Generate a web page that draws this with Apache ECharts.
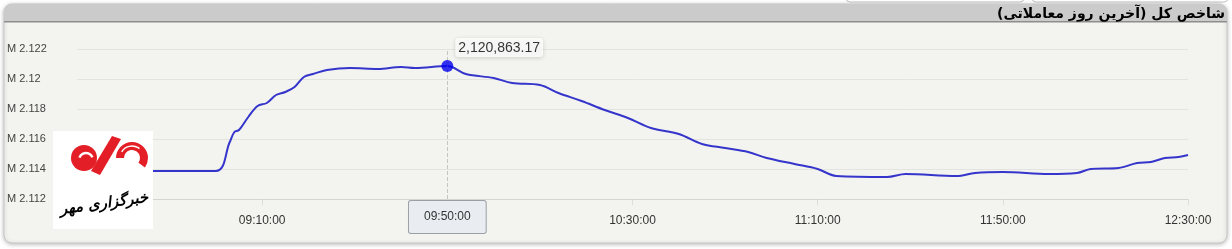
<!DOCTYPE html>
<html><head><meta charset="utf-8">
<script src="https://cdn.jsdelivr.net/npm/echarts@6/dist/echarts.min.js"></script>
<style>html,body{margin:0;padding:0;background:#fff;}#c{width:1232px;height:249px;}</style>
</head><body><div id="c"></div>
<script>
const titleText = 'شاخص کل (آخرین روز معاملاتی)';
const logoText = 'خبرگزاری مهر';
const times = ['08:30','09:00','09:03','09:04','09:05','09:07','09:09','09:11','09:13','09:15','09:17','09:19','09:21','09:24','09:29','09:35','09:40','09:43','09:50','09:54','10:00','10:04','10:10','10:14','10:19','10:24','10:29','10:34','10:40','10:45','10:50','10:55','10:59','11:05','11:10','11:14','11:25','11:29','11:40','11:44','11:50','12:00','12:06','12:09','12:15','12:19','12:22','12:25','12:28','12:30'];
const values = [2113867,2113867,2115800,2116467,2116600,2117467,2118200,2118400,2118933,2119133,2119467,2120133,2120333,2120600,2120733,2120667,2120800,2120733,2120863.17,2120333,2120067,2119733,2119600,2119067,2118533,2117933,2117400,2116733,2116333,2115667,2115400,2115133,2114733,2114333,2114000,2113533,2113467,2113667,2113533,2113733,2113800,2113667,2113733,2114000,2114067,2114400,2114467,2114733,2114800,2114933];
const highlightTime = '09:50';
const startTime = '08:30', endTime = '12:30';
const yMin = 2112000, yMax = 2122000, yStep = 2000;
const xStepMin = 40;

function toMin(s){const p=s.split(':');return (+p[0])*60+(+p[1]);}
const t0 = toMin(startTime);
function fmtTime(m){const a=m+t0;const h=Math.floor(a/60),mm=a%60;return String(h).padStart(2,'0')+':'+String(mm).padStart(2,'0')+':00';}
const lineData = times.map((t,i)=>[toMin(t)-t0, values[i]]);
const hi = times.indexOf(highlightTime);
const hiPoint = lineData[hi];

const RED = '#e31e26';
const chart = echarts.init(document.getElementById('c'), null, {renderer:'canvas'});
chart.setOption({
  animation:false,
  backgroundColor:'#ffffff',
  tooltip:{show:true, trigger:'axis', triggerOn:'none', showContent:false},
  graphic:[
    {type:'rect', z:-10, shape:{x:846,y:-10,width:178,height:12,r:4}, style:{fill:'#fff',stroke:'#c4c4c4'}},
    {type:'rect', z:-10, shape:{x:1032,y:-10,width:196,height:12,r:4}, style:{fill:'#fff',stroke:'#c4c4c4'}},
    {type:'rect', z:-10, shape:{x:4,y:4,width:1223,height:239,r:8},
      style:{fill:'#f3f3ef',stroke:'#c8c8c8',lineWidth:1,shadowBlur:4,shadowColor:'rgba(0,0,0,0.25)',shadowOffsetY:1}},
    {type:'rect', z:-9, shape:{x:4,y:4,width:1223,height:18,r:[8,8,0,0]}, style:{fill:'#cbcbcb'}},
    {type:'rect', z:-9, shape:{x:4,y:21,width:1223,height:1.5}, style:{fill:'#8e8e8e'}},
    {type:'text', z:-8, style:{text:titleText, x:1225, y:14, align:'right', verticalAlign:'middle', fill:'#000', font:'bold 14px "DejaVu Sans", sans-serif'}},
    {type:'rect', zlevel:2, z:1, shape:{x:53,y:131,width:100,height:98}, style:{fill:'#fff'}},
    {type:'circle', zlevel:2, z:2, shape:{cx:84,cy:158,r:13}, style:{fill:RED}},
    {type:'arc', zlevel:2, z:3, shape:{cx:86,cy:160,r:7,startAngle:-2.8,endAngle:-0.4}, style:{stroke:'#fff',lineWidth:2.5,fill:null}},
    {type:'polygon', zlevel:2, z:2, shape:{points:[[91,171],[112,136],[121,139],[100,175]]}, style:{fill:RED}},
    {type:'sector', zlevel:2, z:2, shape:{cx:132,cy:158,r:16,r0:8,startAngle:Math.PI,endAngle:Math.PI*2.2}, style:{fill:RED}},
    {type:'arc', zlevel:2, z:3, shape:{cx:132,cy:158,r:12,startAngle:-2.6,endAngle:-0.9}, style:{stroke:'#fff',lineWidth:1.5,fill:null}},
    {type:'text', zlevel:2, z:3, rotation:0.14, x:104, y:204, style:{text:logoText, x:0, y:0, align:'center', verticalAlign:'middle', fill:'#000', font:'italic bold 15px "DejaVu Sans", sans-serif'}}
  ],
  grid:{left:77, right:44, top:49, bottom:50, containLabel:false},
  xAxis:{
    type:'value', min:0, max:toMin(endTime)-t0, interval:xStepMin,
    axisLine:{show:true, lineStyle:{color:'#d4d4d0', width:1}},
    axisTick:{show:true, length:6, lineStyle:{color:'#dcdcd8'}},
    splitLine:{show:false},
    axisLabel:{showMinLabel:false, showMaxLabel:true, margin:16, color:'#333', fontSize:12, fontFamily:'"Liberation Sans", Arial, sans-serif', formatter:v=>fmtTime(v)},
    axisPointer:{show:true, type:'line', value:hiPoint[0], status:'show', snap:false, triggerTooltip:false,
      lineStyle:{type:'dashed', color:'#c4c4c4', width:1},
      label:{show:true, margin:2, formatter:p=>fmtTime(Math.round(p.value)), backgroundColor:'#e9edf1', borderColor:'#9aa0a6', borderWidth:1, borderRadius:2, padding:[10,15], color:'#333', fontSize:12, fontFamily:'"Liberation Sans", Arial, sans-serif', shadowBlur:0},
      handle:{show:false}}
  },
  yAxis:{
    type:'value', min:yMin, max:yMax, interval:yStep,
    axisLine:{show:false}, axisTick:{show:false},
    splitLine:{show:true, lineStyle:{color:'#e3e3df', width:1}},
    axisLabel:{align:'left', margin:70, color:'#444', fontSize:11, fontFamily:'"Liberation Sans", Arial, sans-serif', formatter:v=>'M '+parseFloat((v/1e6).toFixed(3))},
    axisPointer:{show:false}
  },
  series:[
    {type:'line', data:lineData, smooth:0.35, showSymbol:false, symbol:'none',
      lineStyle:{color:'#3535cc', width:2}, z:3},
    {type:'scatter', data:[hiPoint], symbol:'circle', symbolSize:12, zlevel:1, z:4,
      itemStyle:{color:'#0000ee'},
      label:{show:true, position:[14,-22], formatter:p=>p.value[1].toLocaleString('en-US',{minimumFractionDigits:2,maximumFractionDigits:2}),
        color:'#000', fontSize:14, fontFamily:'"Liberation Sans", Arial, sans-serif', backgroundColor:'#fff', padding:[3,3,2,3], borderRadius:3,
        shadowBlur:4, shadowColor:'rgba(0,0,0,0.2)', shadowOffsetY:1}}
  ]
});
</script></body></html>
